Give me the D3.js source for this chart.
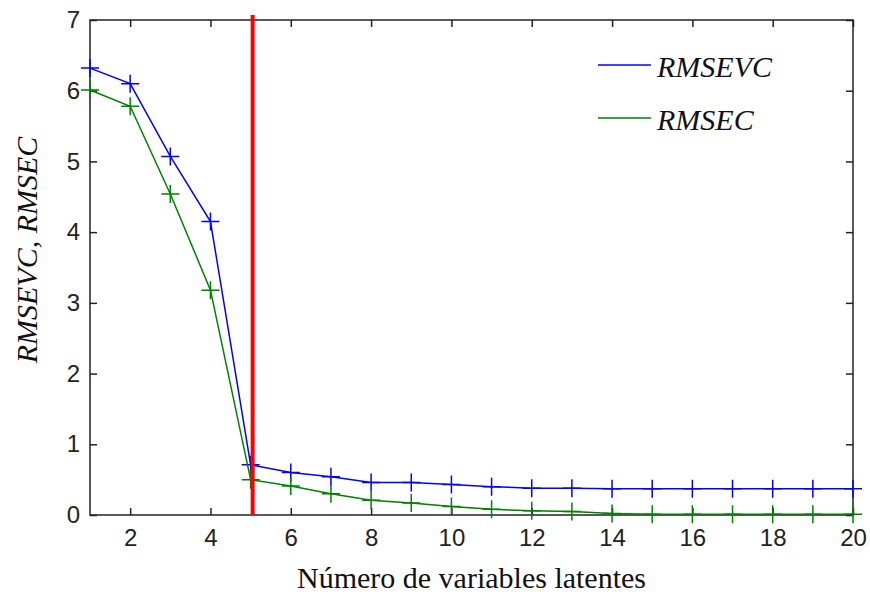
<!DOCTYPE html>
<html>
    <head>
        <meta charset="utf-8">
        <script src="https://d3js.org/d3.v7.min.js"></script>
        <style>
            body { margin: 0; background: #fff; }
        </style>
    </head>
    <body>
        <svg height='594' width='870'></svg>

        <script>
            // values
            const latentVars = [1,2,3,4,5,6,7,8,9,10,11,12,13,14,15,16,17,18,19,20];
            const rmsevc = [6.32,6.10,5.07,4.15,0.71,0.60,0.54,0.46,0.46,0.43,0.40,0.38,0.38,0.37,0.37,0.37,0.37,0.37,0.37,0.37];
            const rmsec  = [6.01,5.78,4.54,3.18,0.50,0.41,0.30,0.21,0.17,0.12,0.08,0.06,0.05,0.02,0.01,0.01,0.01,0.01,0.01,0.01];
            const xTicks = [2,4,6,8,10,12,14,16,18,20];
            const yTicks = [0,1,2,3,4,5,6,7];
            const selectedLV = 5.05;
            const seriesNames = ['RMSEVC','RMSEC'];
            const seriesColors = ['#0000ff','#008000'];

            const svg = d3.select('svg');
            const margin = {left: 90, right: 17, top: 20, bottom: 79};
            const width = +svg.attr('width');
            const height = +svg.attr('height');

            const x = d3.scaleLinear().domain([1,20]).range([margin.left, width - margin.right]);
            const y = d3.scaleLinear().domain([0,7]).range([height - margin.bottom, margin.top]);

            const tickFont = '"Liberation Sans", Arial, sans-serif';
            const serif = '"Liberation Serif", "Times New Roman", serif';

            // axes, ticks inward, mirrored on top/right
            const styleAxis = g => {
                g.select('.domain').remove();
                g.selectAll('line').attr('stroke','#222').attr('stroke-width',1.5);
                g.selectAll('text').attr('fill','#222')
                    .style('font-family', tickFont).style('font-size','24px');
            };

            svg.append('g')
                .attr('transform', `translate(0,${y(0)})`)
                .call(d3.axisBottom(x).tickValues(xTicks).tickFormat(d3.format('d'))
                    .tickSizeInner(-7).tickSizeOuter(0).tickPadding(14))
                .call(styleAxis);
            svg.append('g')
                .attr('transform', `translate(0,${y(7)})`)
                .call(d3.axisTop(x).tickValues(xTicks).tickSizeInner(-7).tickSizeOuter(0).tickFormat(''))
                .call(styleAxis);
            svg.append('g')
                .attr('transform', `translate(${x(1)},0)`)
                .call(d3.axisLeft(y).tickValues(yTicks).tickFormat(d3.format('d'))
                    .tickSizeInner(-7).tickSizeOuter(0).tickPadding(10))
                .call(styleAxis);
            svg.append('g')
                .attr('transform', `translate(${x(20)},0)`)
                .call(d3.axisRight(y).tickValues(yTicks).tickSizeInner(-7).tickSizeOuter(0).tickFormat(''))
                .call(styleAxis);

            svg.append('rect')
                .attr('x', x(1)).attr('y', y(7))
                .attr('width', x(20) - x(1)).attr('height', y(0) - y(7))
                .attr('fill','none').attr('stroke','#222').attr('stroke-width',1.5);

            // data lines with + markers
            const series = [rmsevc, rmsec];
            const line = d3.line().x((d,i) => x(latentVars[i])).y(d => y(d));
            const m = 9;

            series.forEach((vals, k) => {
                const g = svg.append('g');
                g.append('path')
                    .datum(vals)
                    .attr('d', line)
                    .attr('fill','none')
                    .attr('stroke', seriesColors[k])
                    .attr('stroke-width',1.5);
                g.selectAll('path.mk')
                    .data(vals)
                    .enter().append('path')
                    .attr('class','mk')
                    .attr('d', (d,i) => {
                        const cx = x(latentVars[i]), cy = y(d);
                        return `M${cx-m},${cy}H${cx+m}M${cx},${cy-m}V${cy+m}`;
                    })
                    .attr('stroke', seriesColors[k])
                    .attr('stroke-width',1.5);
            });

            // selected number of latent variables
            svg.append('line')
                .attr('x1', x(selectedLV)).attr('x2', x(selectedLV))
                .attr('y1', y(7) - 5).attr('y2', y(0))
                .attr('stroke','#ff0000').attr('stroke-width',4);

            // legend
            const legend = svg.append('g');
            seriesNames.forEach((name, k) => {
                const ly = 65 + k * 53;
                legend.append('line')
                    .attr('x1',598).attr('x2',651).attr('y1',ly).attr('y2',ly)
                    .attr('stroke', seriesColors[k]).attr('stroke-width',1.5);
                legend.append('text')
                    .attr('x',657).attr('y',ly + 12)
                    .style('font-family', serif).style('font-style','italic')
                    .style('font-size','30px').attr('fill','#111')
                    .text(name);
            });

            // axis titles
            svg.append('text')
                .attr('x', (x(1) + x(20)) / 2).attr('y', 588)
                .attr('text-anchor','middle')
                .style('font-family', serif).style('font-size','30px').attr('fill','#111')
                .text('Número de variables latentes');

            svg.append('text')
                .attr('transform', 'translate(37,250) rotate(-90)')
                .attr('text-anchor','middle')
                .style('font-family', serif).style('font-style','italic')
                .style('font-size','30px').attr('fill','#111')
                .text('RMSEVC, RMSEC');
        </script>
    </body>
</html>
